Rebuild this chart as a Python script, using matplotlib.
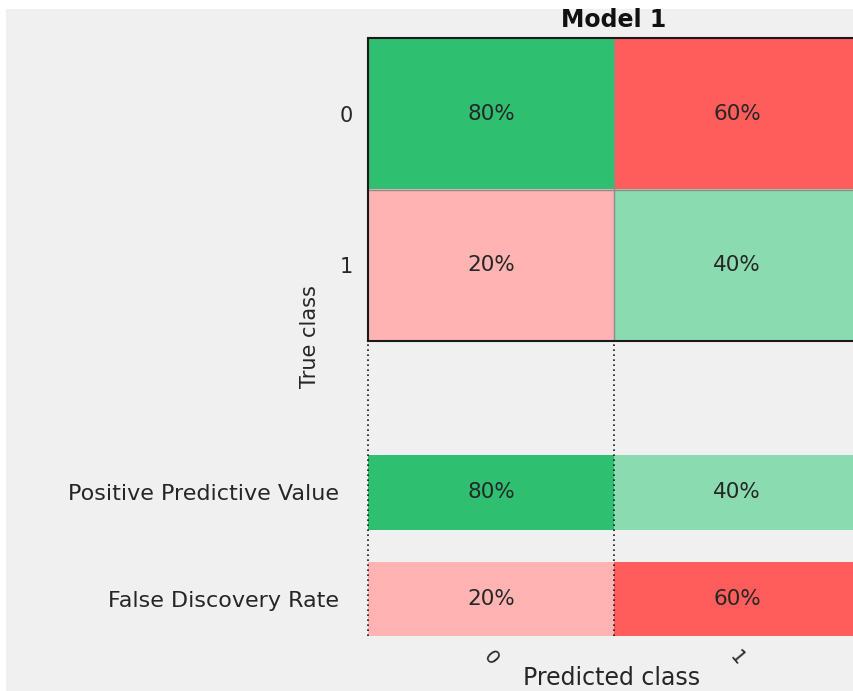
import numpy as np
import matplotlib
matplotlib.use('Agg')
import matplotlib.pyplot as plt
from matplotlib.patches import Rectangle

# confusion matrix, column normalised (%)
classes = ['0', '1']
cm_pct = np.array([[80, 60],
                   [20, 40]])
ppv = [80, 40]
fdr = [20, 60]
title = 'Model 1'

W, H = 854, 691
GREEN_DARK, GREEN_LIGHT = '#2ebf71', '#8adcb0'
RED_DARK, RED_LIGHT = '#ff5c5c', '#ffb3b3'
TXT = '#262626'
plt.rcParams['font.family'] = ['DejaVu Sans']


def cell_color(v, correct):
    if correct:
        return GREEN_DARK if v >= 50 else GREEN_LIGHT
    return RED_DARK if v >= 50 else RED_LIGHT


def to_rgb_grid(vals, correct_mask):
    out = np.zeros(vals.shape + (3,))
    for i in range(vals.shape[0]):
        for j in range(vals.shape[1]):
            out[i, j] = matplotlib.colors.to_rgb(cell_color(vals[i, j], correct_mask[i, j]))
    return out


def box(x0, y0, x1, y1):
    # pixel box (top-left origin) -> figure fraction rect
    return [x0 / W, 1 - y1 / H, (x1 - x0) / W, (y1 - y0) / H]


fig = plt.figure(figsize=(W / 100, H / 100), dpi=100, facecolor='white')
fig.patches.append(Rectangle((6 / W, 0), 1, 1 - 9 / H, transform=fig.transFigure,
                             facecolor='#f0f0f0', edgecolor='none', zorder=-10))

# main matrix
ax = fig.add_axes(box(368, 38, 860, 341))
ax.imshow(to_rgb_grid(cm_pct, np.eye(2, dtype=bool)), aspect='auto')
for i in range(2):
    for j in range(2):
        ax.text(j, i, f'{cm_pct[i, j]}%', ha='center', va='center', fontsize=15.5, color=TXT)
ax.axhline(0.5, color='#8c8c8c', lw=1)
ax.axvline(0.5, color='#8c8c8c', lw=1)
ax.set_xticks([])
ax.set_yticks(range(2), classes, fontsize=15, color=TXT)
ax.tick_params(axis='y', length=0, pad=11)
for s in ax.spines.values():
    s.set_color('#1a1a1a')
    s.set_linewidth(1.5)

# column summary rows
rows = [('Positive Predictive Value', ppv, True, (455, 530)),
        ('False Discovery Rate', fdr, False, (562, 636))]
for label, vals, good, (y0, y1) in rows:
    a = fig.add_axes(box(368, y0, 860, y1))
    v = np.array([vals])
    a.imshow(to_rgb_grid(v, np.full(v.shape, good)), aspect='auto')
    for j, val in enumerate(vals):
        a.text(j, 0, f'{val}%', ha='center', va='center', fontsize=15.5, color=TXT)
    a.set_yticks([0], [label], fontsize=16, color=TXT)
    a.tick_params(axis='y', length=0, pad=21)
    a.set_xticks([])
    for s in a.spines.values():
        s.set_visible(False)
    last = a

last.set_xticks(range(2), classes, fontsize=14, color=TXT, rotation=-50)
last.tick_params(axis='x', length=0, pad=8)

# dotted column guides below the matrix
ov = fig.add_axes(box(368, 341, 860, 636), facecolor='none')
ov.set_xlim(-0.5, 1.5)
for xv in [-0.5, 0.5]:
    ov.axvline(xv, color='#1a1a1a', ls=(0, (1, 2)), lw=1.2, clip_on=False)
ov.axis('off')

fig.text(614 / W, 1 - 20 / H, title, ha='center', va='center', fontsize=17,
         fontweight='bold', color='#111111')
fig.text(310 / W, 1 - 337 / H, 'True class', ha='center', va='center', rotation=90,
         fontsize=15, color=TXT)
fig.text(612 / W, 1 / H, 'Predicted class', ha='center', va='bottom',
         fontsize=17, color=TXT)

fig.savefig('out.png', dpi=100, facecolor=fig.get_facecolor())
